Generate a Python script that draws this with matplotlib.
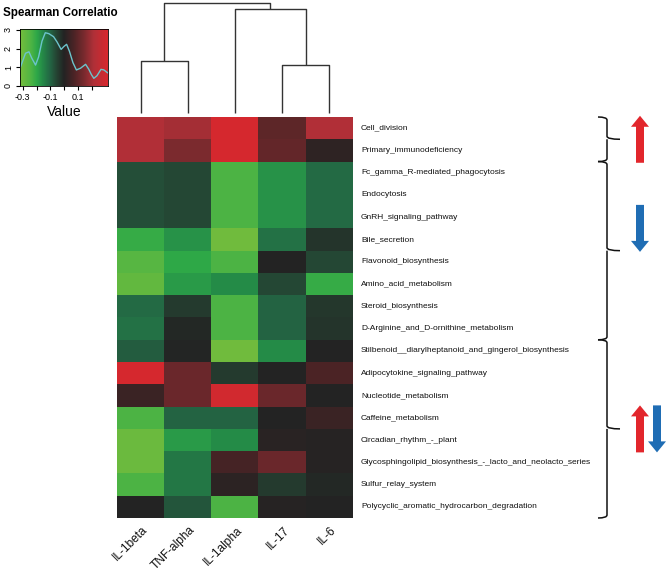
import numpy as np
import matplotlib
matplotlib.use("Agg")
import matplotlib.pyplot as plt
from matplotlib.colors import LinearSegmentedColormap
from matplotlib.path import Path
from matplotlib.patches import PathPatch, FancyArrow

plt.rcParams["font.family"] = ["Liberation Sans", "DejaVu Sans"]

W, H = 666, 571

COLUMNS = ["IL-1beta", "TNF-alpha", "IL-1alpha", "IL-17", "IL-6"]
PATHWAYS = [
    "Cell_division",
    "Primary_immunodeficiency",
    "Fc_gamma_R-mediated_phagocytosis",
    "Endocytosis",
    "GnRH_signaling_pathway",
    "Bile_secretion",
    "Flavonoid_biosynthesis",
    "Amino_acid_metabolism",
    "Steroid_biosynthesis",
    "D-Arginine_and_D-ornithine_metabolism",
    "Stilbenoid__diarylheptanoid_and_gingerol_biosynthesis",
    "Adipocytokine_signaling_pathway",
    "Nucleotide_metabolism",
    "Caffeine_metabolism",
    "Circadian_rhythm_-_plant",
    "Glycosphingolipid_biosynthesis_-_lacto_and_neolacto_series",
    "Sulfur_relay_system",
    "Polycyclic_aromatic_hydrocarbon_degradation",
]

# spearman rho, rows = pathways, cols = cytokines
RHO = [
    [0.22, 0.20, 0.31, 0.10, 0.22],
    [0.22, 0.15, 0.31, 0.11, 0.02],
    [-0.07, -0.06, -0.24, -0.17, -0.11],
    [-0.07, -0.06, -0.24, -0.17, -0.11],
    [-0.07, -0.06, -0.24, -0.17, -0.11],
    [-0.21, -0.17, -0.31, -0.12, -0.03],
    [-0.26, -0.20, -0.24, 0.00, -0.06],
    [-0.28, -0.18, -0.16, -0.06, -0.21],
    [-0.11, -0.04, -0.24, -0.10, -0.035],
    [-0.12, -0.01, -0.24, -0.10, -0.03],
    [-0.09, -0.005, -0.31, -0.16, 0.00],
    [0.31, 0.12, -0.04, 0.00, 0.07],
    [0.04, 0.12, 0.30, 0.12, 0.00],
    [-0.24, -0.10, -0.10, 0.00, 0.04],
    [-0.30, -0.18, -0.16, 0.01, 0.005],
    [-0.30, -0.13, 0.06, 0.12, 0.005],
    [-0.24, -0.13, 0.015, -0.04, -0.01],
    [0.00, -0.08, -0.24, 0.005, 0.00],
]

# column dendrogram: (left child, right child, height); children >= 5 are earlier merges
MERGES = [(0, 1, 0.473), (3, 4, 0.436), (2, 6, 0.945), (5, 7, 1.0)]

# density trace drawn in the colour key
DENS_X = [-0.32, -0.30, -0.28, -0.255, -0.235, -0.207, -0.185, -0.16, -0.136, -0.11,
          -0.076, -0.05, -0.021, 0.0, 0.019, 0.04, 0.065, 0.09, 0.12, 0.157,
          0.18, 0.2, 0.217, 0.24, 0.269, 0.29, 0.317]
DENS_Y = [0.95, 1.35, 1.75, 1.83, 1.5, 1.12, 1.55, 2.4, 2.85, 2.8,
          2.64, 2.35, 1.96, 2.12, 2.23, 1.85, 1.25, 0.86, 0.95, 1.16,
          0.9, 0.6, 0.41, 0.55, 0.89, 0.86, 0.71]

# row groups with brace and arrow direction
GROUPS = [(0, 2, "up"), (2, 10, "down"), (10, 18, "both")]

VMIN, VMAX = -0.32, 0.32
cmap = LinearSegmentedColormap.from_list("rg", [
    (0.00, "#76BD3C"),
    (0.125, "#4DB444"),
    (0.19, "#2EA848"),
    (0.25, "#258C48"),
    (0.34, "#236644"),
    (0.42, "#254232"),
    (0.50, "#232323"),
    (0.62, "#4E2426"),
    (0.73, "#7A2A2E"),
    (0.84, "#B03038"),
    (1.00, "#D8282E"),
])


def fig_rect(x0, y0, x1, y1):
    return [x0 / W, 1 - y1 / H, (x1 - x0) / W, (y1 - y0) / H]


fig = plt.figure(figsize=(W / 100, H / 100), dpi=100)

# heatmap
HM = (117, 117, 353, 518)
ax = fig.add_axes(fig_rect(*HM))
data = np.array(RHO)
ax.imshow(data, cmap=cmap, vmin=VMIN, vmax=VMAX, aspect="auto", interpolation="nearest")
ax.set_xlim(-0.5, len(COLUMNS) - 0.5)
ax.set_ylim(len(PATHWAYS) - 0.5, -0.5)
ax.axis("off")
col_px = (HM[2] - HM[0]) / len(COLUMNS)
row_px = (HM[3] - HM[1]) / len(PATHWAYS)
for i, name in enumerate(PATHWAYS):
    ax.text(len(COLUMNS) - 0.5 + 8 / col_px, i, name, ha="left", va="center",
            fontsize=6.0, color="#111111")
for j, name in enumerate(COLUMNS):
    ax.text(j + 1 / col_px, len(PATHWAYS) - 0.5 + 6 / row_px, name, rotation=45,
            rotation_mode="anchor", ha="right", va="top", fontsize=8.6, color="#111111")

# dendrogram
axd = fig.add_axes(fig_rect(HM[0], 3, HM[2], 113))
axd.set_xlim(-0.5, len(COLUMNS) - 0.5)
axd.set_ylim(0, 1)
axd.axis("off")
nodes = {k: (float(k), 0.0) for k in range(len(COLUMNS))}
for n, (a, b, h) in enumerate(MERGES):
    xa, ha_ = nodes[a]
    xb, hb = nodes[b]
    axd.plot([xa, xa, xb, xb], [ha_, h, h, hb], color="#333333", lw=1.0,
             solid_capstyle="butt", clip_on=False)
    nodes[len(COLUMNS) + n] = ((xa + xb) / 2, h)

# colour key
axk = fig.add_axes(fig_rect(20, 29, 108, 86))
grad = np.linspace(VMIN, VMAX, 256).reshape(1, -1)
axk.imshow(grad, cmap=cmap, vmin=VMIN, vmax=VMAX, aspect="auto",
           extent=[VMIN, VMAX, 0, 3.05], interpolation="bilinear")
axk.plot(DENS_X, DENS_Y, color="#6CC4CC", lw=1.0)
axk.set_xlim(VMIN, VMAX)
axk.set_ylim(0, 3.05)
axk.set_xticks([-0.3, -0.2, -0.1, 0.0, 0.1, 0.2])
axk.set_xticklabels(["-0.3", "", "-0.1", "", "0.1", ""])
axk.set_yticks([0, 1, 2, 3])
axk.set_yticklabels(["0", "1", "2", "3"], rotation=90, va="center")
axk.tick_params(labelsize=6.5, length=3, width=0.8, pad=2)
for s in axk.spines.values():
    s.set_linewidth(0.6)
axk.set_xlabel("Value", fontsize=10, labelpad=2)
fig.text(3 / W, 1 - 13 / H, "Spearman Correlatio", fontsize=8.4, fontweight="bold",
         ha="left", va="center")

# braces and arrows, x in pixels, y in heatmap rows
axb = fig.add_axes(fig_rect(590, HM[1], W, HM[3]))
axb.set_xlim(590, W)
axb.set_ylim(len(PATHWAYS) - 0.5, -0.5)
axb.axis("off")
BX, HOOK, TIP = 607, 9, 13
cy = 3.0 / row_px


def brace(y0, y1):
    ym = (y0 + y1) / 2
    verts = [
        (BX - HOOK, y0), (BX, y0), (BX, y0 + cy),
        (BX, ym - cy),
        (BX, ym), (BX + TIP, ym),
        (BX, ym), (BX, ym + cy),
        (BX, y1 - cy),
        (BX, y1), (BX - HOOK, y1),
    ]
    codes = [Path.MOVETO, Path.CURVE3, Path.CURVE3,
             Path.LINETO,
             Path.CURVE3, Path.CURVE3,
             Path.MOVETO, Path.CURVE3,
             Path.LINETO,
             Path.CURVE3, Path.CURVE3]
    axb.add_patch(PathPatch(Path(verts, codes), fill=False, lw=1.1, ec="#111111",
                            clip_on=False))


def arrow(x, y_from, y_to, color):
    hl = 11 / row_px
    axb.add_patch(FancyArrow(x, y_from, 0, y_to - y_from, width=8, head_width=18,
                             head_length=hl, length_includes_head=True,
                             color=color, lw=0, clip_on=False))


RED, BLUE = "#E2262C", "#1F6DB4"
for start, stop, kind in GROUPS:
    y0, y1 = start - 0.5, stop - 0.5
    brace(y0, y1)
    ym = (y0 + y1) / 2
    span = 47 / row_px
    if kind == "up":
        arrow(640, ym + span / 2, ym - span / 2, RED)
    elif kind == "down":
        arrow(640, ym - span / 2 - 1.0, ym + span / 2 - 1.0, BLUE)
    else:
        arrow(640, ym + span / 2, ym - span / 2, RED)
        arrow(657, ym - span / 2, ym + span / 2, BLUE)

fig.savefig("out.png", dpi=100)
